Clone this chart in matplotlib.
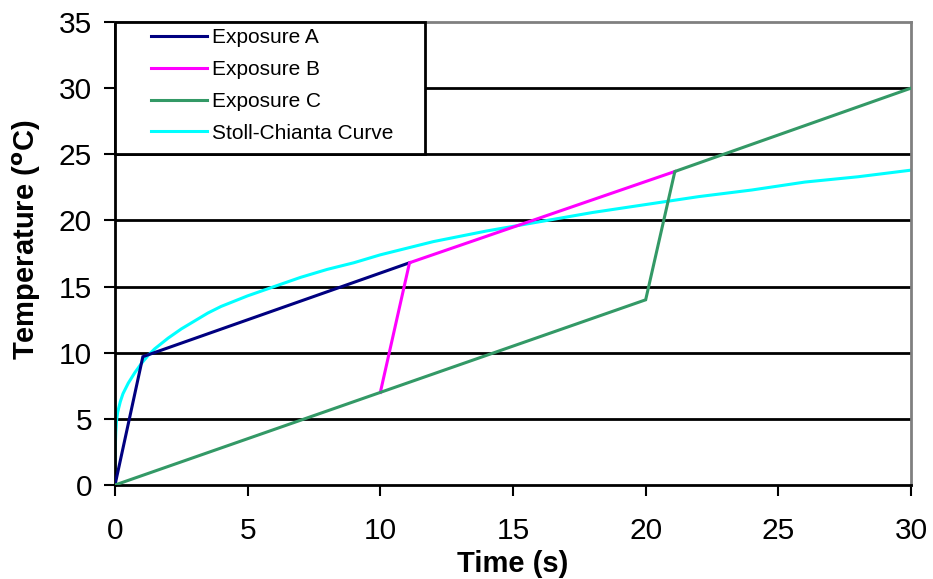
import matplotlib
matplotlib.use("Agg")
import matplotlib.pyplot as plt
from matplotlib.patches import Rectangle

# Data
a_t = [0, 1.05, 11.1]
a_T = [0, 9.7, 16.8]
b_t = [10, 11.1, 21.1]
b_T = [7.0, 16.8, 23.7]
c_t = [0, 20.0, 21.1, 30]
c_T = [0, 14.0, 23.7, 30.0]
sc_t = [0, 0.01, 0.03, 0.06, 0.1, 0.2, 0.3, 0.5, 0.75, 1, 1.25, 1.5, 2, 2.5,
        3, 3.5, 4, 5, 6, 7, 8, 9, 10, 12, 14, 16, 18, 20, 22, 24, 26, 28, 30]
sc_T = [0, 2.8, 4.0, 4.9, 5.5, 6.3, 6.9, 7.7, 8.5, 9.2, 9.8, 10.3, 11.1, 11.8,
        12.4, 13.0, 13.5, 14.3, 15.0, 15.7, 16.3, 16.8, 17.4, 18.4, 19.2,
        19.9, 20.6, 21.2, 21.8, 22.3, 22.9, 23.3, 23.8]
labels = ["Exposure A", "Exposure B", "Exposure C", "Stoll-Chianta Curve"]
colors = ["#000080", "#FF00FF", "#339966", "#00FFFF"]
x_ticks = [0, 5, 10, 15, 20, 25, 30]
y_ticks = [0, 5, 10, 15, 20, 25, 30, 35]

plt.rcParams['font.family'] = ['Liberation Sans', 'DejaVu Sans']

fig = plt.figure(figsize=(9.33, 5.79), dpi=100)
ax = fig.add_axes([115/933, 1-485/579, (911-115)/933, (485-22)/579])

for yv in y_ticks[1:-1]:
    ax.axhline(yv, color='black', lw=2.0, zorder=1)

series = [(a_t, a_T), (b_t, b_T), (c_t, c_T), (sc_t, sc_T)]
handles = []
for (xs, ys), lab, col in zip(series, labels, colors):
    h, = ax.plot(xs, ys, color=col, lw=2.2, label=lab, zorder=3,
                 solid_joinstyle='miter')
    handles.append(h)
handles[3].set_zorder(2.5)

ax.set_xlim(0, 30)
ax.set_ylim(0, 35)
ax.set_xticks(x_ticks)
ax.set_yticks(y_ticks)
ax.tick_params(axis='both', direction='out', length=8, width=1.5,
               labelsize=21.5, color='black')
ax.tick_params(axis='y', pad=8.5)
ax.tick_params(axis='x', pad=15)

for s in ['left', 'bottom']:
    ax.spines[s].set_color('black')
    ax.spines[s].set_linewidth(2.0)
for s in ['right', 'top']:
    ax.spines[s].set_color('#808080')
    ax.spines[s].set_linewidth(2.0)

ax.set_xlabel("Time (s)", fontsize=21, fontweight='bold', labelpad=4)
ax.set_ylabel(r"Temperature ($\mathbf{^o}$C)", fontsize=21,
              fontweight='bold')
ax.yaxis.set_label_coords(-0.09, 0.53)

# legend box
rect = Rectangle((0, (485-154)/463), (425-115)/796, 1-(485-154)/463,
                 transform=ax.transAxes, facecolor='white', edgecolor='black',
                 lw=2.0, zorder=5, clip_on=False)
ax.add_patch(rect)
leg = ax.legend(handles=handles, labels=labels, loc='upper left',
                bbox_to_anchor=((151-115)/796, (485-28)/463),
                frameon=False, fontsize=15, borderpad=0, borderaxespad=0,
                handlelength=2.7, handletextpad=0.25, labelspacing=0.62)
leg.set_zorder(6)

fig.savefig("out.png", dpi=100)
